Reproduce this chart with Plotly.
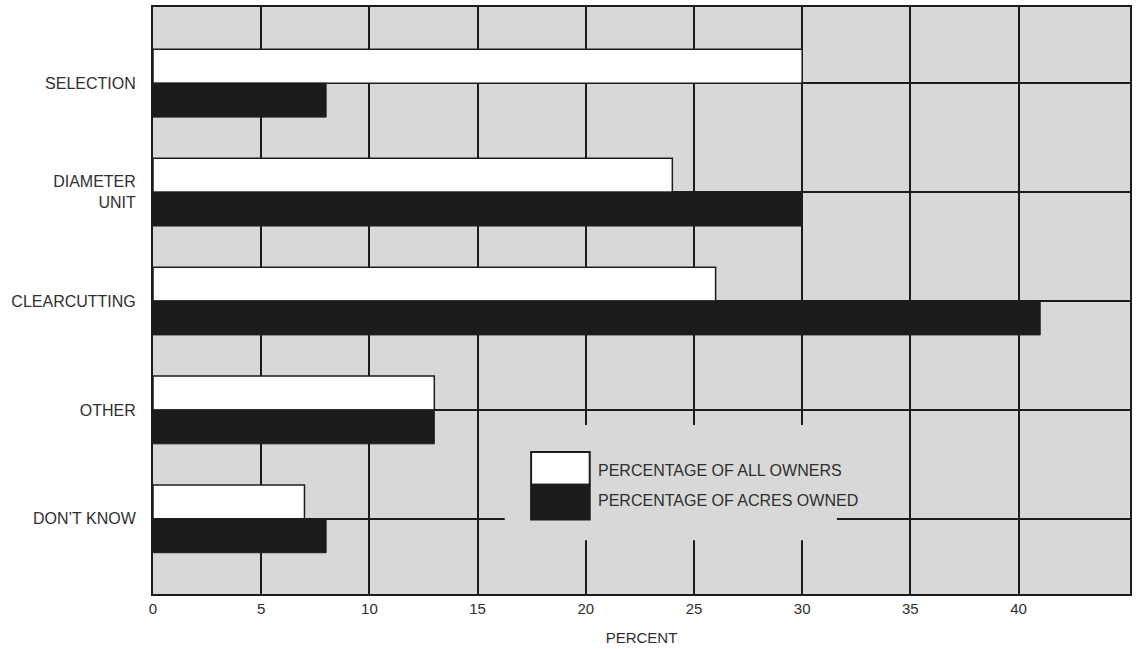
import plotly.graph_objects as go

categories = ["SELECTION", "DIAMETER<br>UNIT", "CLEARCUTTING", "OTHER", "DON\u2019T KNOW"]
all_owners = [30, 24, 26, 13, 7]
acres_owned = [8, 30, 41, 13, 8]
series_names = ["PERCENTAGE OF ALL OWNERS", "PERCENTAGE OF ACRES OWNED"]
x_ticks = [0, 5, 10, 15, 20, 25, 30, 35, 40]

TEXT = "#2e2e2e"
BG = "#d8d8d8"
DARK = "#1c1c1c"
FONT = "Liberation Sans, Arial, sans-serif"

fig = go.Figure()
fig.add_trace(go.Bar(
    y=categories, x=all_owners, orientation="h", name=series_names[0],
    marker=dict(color="white", line=dict(color=DARK, width=1.5)),
    showlegend=False, hoverinfo="x+y",
))
fig.add_trace(go.Bar(
    y=categories, x=acres_owned, orientation="h", name=series_names[1],
    marker=dict(color=DARK, line=dict(color=DARK, width=1)),
    showlegend=False, hoverinfo="x+y",
))

# Legend block (cover + patches + labels)
shapes = [
    dict(type="rect", xref="paper", yref="paper", x0=0.360, x1=0.700, y0=0.0915, y1=0.288,
         fillcolor=BG, line=dict(width=0), layer="above"),
    dict(type="rect", xref="paper", yref="paper", x0=0.387, x1=0.447, y0=0.186, y1=0.242,
         fillcolor="white", line=dict(color=DARK, width=2), layer="above"),
    dict(type="rect", xref="paper", yref="paper", x0=0.387, x1=0.447, y0=0.127, y1=0.186,
         fillcolor=DARK, line=dict(color=DARK, width=2), layer="above"),
]
annotations = [
    dict(xref="paper", yref="paper", x=0.453, y=0.211, text=series_names[0], showarrow=False,
         xanchor="left", yanchor="middle", font=dict(size=16, color=TEXT, family=FONT)),
    dict(xref="paper", yref="paper", x=0.453, y=0.160, text=series_names[1], showarrow=False,
         xanchor="left", yanchor="middle", font=dict(size=16, color=TEXT, family=FONT)),
]

fig.update_layout(
    width=1137, height=649,
    margin=dict(l=153, r=5, t=6, b=53),
    paper_bgcolor="white", plot_bgcolor=BG,
    barmode="group", bargap=0.378, bargroupgap=0,
    font=dict(family=FONT, color=TEXT, size=15),
    shapes=shapes, annotations=annotations,
    xaxis=dict(
        range=[0, 45.15], tickvals=x_ticks, ticktext=[str(v) for v in x_ticks],
        showgrid=True, gridcolor=DARK, gridwidth=1.5,
        showline=True, linecolor=DARK, linewidth=2, mirror=True,
        zeroline=False, ticks="", tickfont=dict(size=15, color=TEXT),
        title=dict(text="PERCENT", font=dict(size=15, color=TEXT), standoff=16),
    ),
    yaxis=dict(
        type="category", categoryorder="array", categoryarray=categories,
        range=[4.69, -0.70],
        showgrid=True, gridcolor=DARK, gridwidth=1.5,
        showline=True, linecolor=DARK, linewidth=2, mirror=True,
        ticks="", ticklabelstandoff=12, tickfont=dict(size=16, color=TEXT),
    ),
)

fig.write_html(
    "out.html",
    config={"displayModeBar": False},
    post_script="document.body.style.margin='0';document.body.style.overflow='hidden';",
)
